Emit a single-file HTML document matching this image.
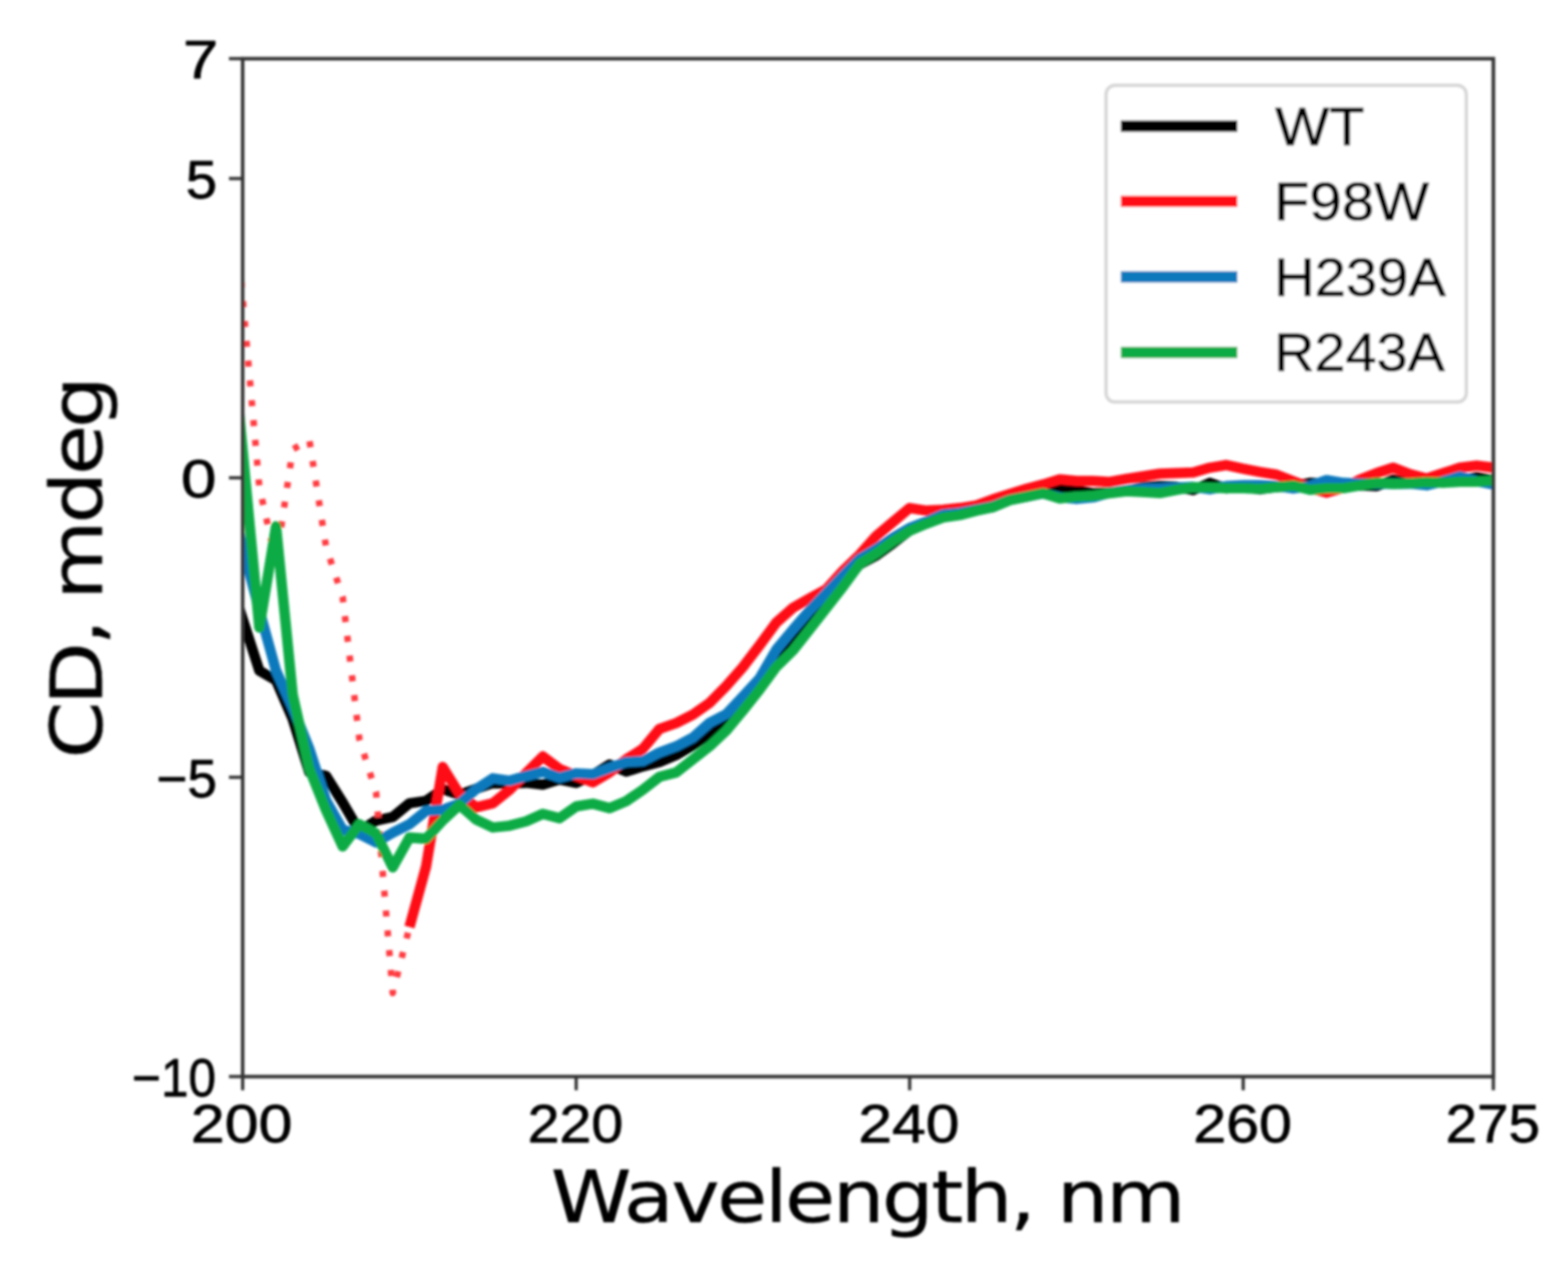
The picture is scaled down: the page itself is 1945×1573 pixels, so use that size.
<!DOCTYPE html>
<html lang="en">
<head>
<meta charset="utf-8">
<title>CD spectra</title>
<style>
html,body{margin:0;padding:0;background:#fff;}
body{width:1945px;height:1573px;overflow:hidden;}
svg{display:block;}
text{fill:#000;}
.lib{font-family:"Liberation Sans", Arial, sans-serif;stroke:#000;stroke-width:0.9px;stroke-linejoin:round;}
.dv{font-family:"DejaVu Sans", "Liberation Sans", sans-serif;stroke:#000;stroke-width:0.5px;stroke-linejoin:round;}
.curve{fill:none;stroke-width:12.8;stroke-linejoin:round;stroke-linecap:butt;}
</style>
</head>
<body>
<svg width="1945" height="1573" viewBox="0 0 1945 1573">
<defs>
<clipPath id="ax"><rect x="301.0" y="72.8" width="1551.4" height="1262.8"/></clipPath>
<filter id="soft" x="-2%" y="-2%" width="104%" height="104%"><feGaussianBlur stdDeviation="1.5"/></filter>
</defs>
<rect width="1945" height="1573" fill="#fff"/>
<g filter="url(#soft)">
<g clip-path="url(#ax)">
<path class="curve" stroke="#000000" d="M280.3,704.0 L301.0,768.0 L321.7,832.0 L342.4,844.0 L363.1,892.0 L383.7,958.0 L404.4,962.5 L425.1,995.5 L445.8,1031.0 L466.5,1018.0 L487.2,1013.5 L507.9,996.5 L528.5,993.5 L549.2,979.0 L569.9,986.0 L590.6,978.5 L611.3,971.5 L632.0,972.0 L652.7,971.0 L673.3,973.4 L694.0,967.0 L714.7,971.2 L735.4,961.5 L756.1,948.5 L776.8,957.2 L797.4,950.7 L818.1,945.3 L838.8,936.6 L859.5,924.7 L880.2,910.7 L900.9,893.4 L921.6,870.0 L942.2,846.0 L962.9,818.0 L983.6,795.0 L1004.3,770.0 L1025.0,746.0 L1045.7,722.0 L1066.4,700.0 L1087.0,689.0 L1107.7,674.0 L1128.4,658.0 L1149.1,649.0 L1169.8,640.0 L1190.5,637.0 L1211.2,633.0 L1231.8,629.0 L1252.5,620.0 L1273.2,616.0 L1293.9,611.0 L1314.6,606.0 L1335.3,608.0 L1356.0,612.0 L1376.6,611.0 L1397.3,609.0 L1418.0,604.0 L1438.7,603.0 L1459.4,604.0 L1480.1,608.0 L1500.7,599.0 L1521.4,606.0 L1542.1,604.0 L1562.8,607.0 L1583.5,604.0 L1604.2,603.0 L1624.9,599.0 L1645.5,600.0 L1666.2,603.0 L1686.9,602.0 L1707.6,603.0 L1728.3,595.0 L1749.0,599.0 L1769.7,598.0 L1790.3,598.0 L1811.0,596.0 L1831.7,592.0 L1852.4,596.0 L1873.1,600.0"/>
<path class="curve" stroke="#ff0d12" d="M507.9,1150.0 L528.5,1075.0 L549.2,951.5 L569.9,985.0 L590.6,1001.5 L611.3,996.5 L632.0,980.0 L652.7,959.0 L673.3,938.5 L694.0,953.8 L714.7,962.5 L735.4,970.5 L756.1,958.2 L776.8,942.0 L797.4,929.0 L818.1,904.2 L838.8,897.0 L859.5,886.5 L880.2,872.0 L900.9,851.0 L921.6,827.5 L942.2,800.5 L962.9,772.4 L983.6,754.0 L1004.3,742.3 L1025.0,731.0 L1045.7,708.0 L1066.4,688.0 L1087.0,664.8 L1107.7,647.5 L1128.4,630.2 L1149.1,633.5 L1169.8,632.4 L1190.5,630.2 L1211.2,627.0 L1231.8,619.4 L1252.5,612.9 L1273.2,606.4 L1293.9,601.0 L1314.6,594.6 L1335.3,596.7 L1356.0,596.7 L1376.6,597.8 L1397.3,594.0 L1418.0,590.9 L1438.7,587.6 L1459.4,586.9 L1480.1,586.2 L1500.7,580.2 L1521.4,576.9 L1542.1,581.5 L1562.8,585.5 L1583.5,588.9 L1604.2,596.9 L1624.9,605.0 L1645.5,611.0 L1666.2,605.0 L1686.9,595.0 L1707.6,586.9 L1728.3,580.2 L1749.0,588.2 L1769.7,593.6 L1790.3,586.9 L1811.0,580.2 L1831.7,577.5 L1852.4,580.2 L1873.1,582.9"/>
<path fill="none" stroke="#ff3a3f" stroke-width="8" stroke-dasharray="7.5 17.16" stroke-dashoffset="8.0" stroke-linejoin="round" d="M280.3,136.0 L301.0,370.0 L321.7,604.0 L342.4,697.0 L363.1,557.5 L383.7,545.6 L404.4,678.0 L425.1,741.0 L445.8,917.0 L466.5,983.0 L487.2,1232.0 L507.9,1150.0"/>
<path class="curve" stroke="#0b79bd" d="M280.3,599.8 L301.0,678.4 L321.7,757.0 L342.4,832.0 L363.1,878.0 L383.7,929.0 L404.4,993.0 L425.1,1029.5 L445.8,1034.5 L466.5,1045.0 L487.2,1033.0 L507.9,1022.5 L528.5,1006.0 L549.2,1004.5 L569.9,997.0 L590.6,979.0 L611.3,965.5 L632.0,968.5 L652.7,962.7 L673.3,957.5 L694.0,964.7 L714.7,959.3 L735.4,960.4 L756.1,952.8 L776.8,945.3 L797.4,944.2 L818.1,933.4 L838.8,925.8 L859.5,915.0 L880.2,896.6 L900.9,885.8 L921.6,864.0 L942.2,841.5 L962.9,805.9 L983.6,781.0 L1004.3,757.3 L1025.0,735.7 L1045.7,714.0 L1066.4,693.0 L1087.0,681.0 L1107.7,667.0 L1128.4,655.0 L1149.1,647.0 L1169.8,638.0 L1190.5,636.0 L1211.2,632.0 L1231.8,628.0 L1252.5,620.0 L1273.2,616.0 L1293.9,612.0 L1314.6,617.0 L1335.3,619.0 L1356.0,617.0 L1376.6,611.0 L1397.3,608.0 L1418.0,606.0 L1438.7,606.0 L1459.4,605.0 L1480.1,604.0 L1500.7,607.0 L1521.4,603.0 L1542.1,602.0 L1562.8,602.0 L1583.5,603.0 L1604.2,606.0 L1624.9,603.0 L1645.5,595.6 L1666.2,599.0 L1686.9,600.0 L1707.6,600.0 L1728.3,600.0 L1749.0,600.0 L1769.7,602.0 L1790.3,597.0 L1811.0,591.0 L1831.7,597.0 L1852.4,601.0 L1873.1,605.0"/>
<path class="curve" stroke="#08ab44" d="M280.3,340.3 L301.0,559.4 L321.7,778.5 L342.4,653.0 L363.1,862.0 L383.7,953.7 L404.4,1005.0 L425.1,1050.0 L445.8,1022.5 L466.5,1034.0 L487.2,1076.0 L507.9,1039.0 L528.5,1040.5 L549.2,1017.8 L569.9,998.5 L590.6,1016.7 L611.3,1026.5 L632.0,1024.3 L652.7,1018.9 L673.3,1009.6 L694.0,1015.0 L714.7,1000.4 L735.4,997.0 L756.1,1002.5 L776.8,993.9 L797.4,979.8 L818.1,963.6 L838.8,958.2 L859.5,942.0 L880.2,925.8 L900.9,906.4 L921.6,881.5 L942.2,855.5 L962.9,827.3 L983.6,807.0 L1004.3,780.7 L1025.0,754.3 L1045.7,727.8 L1066.4,699.4 L1087.0,686.4 L1107.7,671.3 L1128.4,658.3 L1149.1,649.7 L1169.8,642.0 L1190.5,639.0 L1211.2,633.5 L1231.8,629.1 L1252.5,620.5 L1273.2,616.2 L1293.9,611.8 L1314.6,618.3 L1335.3,616.2 L1356.0,615.1 L1376.6,611.8 L1397.3,609.3 L1418.0,610.3 L1438.7,611.6 L1459.4,607.6 L1480.1,604.3 L1500.7,604.9 L1521.4,605.6 L1542.1,605.6 L1562.8,606.3 L1583.5,604.3 L1604.2,602.3 L1624.9,607.6 L1645.5,605.6 L1666.2,605.6 L1686.9,602.3 L1707.6,598.9 L1728.3,600.3 L1749.0,599.6 L1769.7,598.2 L1790.3,598.9 L1811.0,597.6 L1831.7,597.6 L1852.4,596.2 L1873.1,594.8"/>
</g>
<path d="M301.0,1335.6 v17.0 M714.7,1335.6 v17.0 M1128.4,1335.6 v17.0 M1542.1,1335.6 v17.0 M1852.4,1335.6 v17.0 M301.0,72.8 h-17.0 M301.0,221.4 h-17.0 M301.0,592.8 h-17.0 M301.0,964.2 h-17.0 M301.0,1335.6 h-17.0" stroke="#333333" stroke-width="4.0" fill="none"/>
<rect x="301.0" y="72.8" width="1551.4" height="1262.8" fill="none" stroke="#333333" stroke-width="4.4"/>
<rect x="1372.0" y="105.9" width="446.8" height="392.8" rx="11" fill="#fff" stroke="#d6d6d6" stroke-width="4.2"/>
<line x1="1390.3" x2="1535" y1="156.6" y2="156.6" stroke="#000000" stroke-width="14.0"/>
<text class="lib" font-size="67.44" transform="translate(1581.74,179.80) scale(1.0559,1)">WT</text>
<line x1="1390.3" x2="1535" y1="249.8" y2="249.8" stroke="#ff0d12" stroke-width="14.0"/>
<text class="lib" font-size="67.44" transform="translate(1580.33,273.20) scale(1.0692,1)">F98W</text>
<line x1="1390.3" x2="1535" y1="343.5" y2="343.5" stroke="#0b79bd" stroke-width="14.0"/>
<text class="lib" font-size="67.44" transform="translate(1580.53,366.80) scale(1.0327,1)">H239A</text>
<line x1="1390.3" x2="1535" y1="437.2" y2="437.2" stroke="#08ab44" stroke-width="14.0"/>
<text class="lib" font-size="67.44" transform="translate(1580.57,460.20) scale(1.0257,1)">R243A</text>
<text class="lib" font-size="67.44" transform="translate(236.83,1416.70) scale(1.1186,1)">200</text>
<text class="lib" font-size="67.44" transform="translate(654.45,1416.70) scale(1.0539,1)">220</text>
<text class="lib" font-size="67.44" transform="translate(1064.64,1416.70) scale(1.1158,1)">240</text>
<text class="lib" font-size="67.44" transform="translate(1480.23,1416.70) scale(1.0877,1)">260</text>
<text class="lib" font-size="67.44" transform="translate(1793.30,1416.70) scale(1.0393,1)">275</text>
<text class="lib" font-size="67.44" transform="translate(226.97,97.40) scale(1.1667,1)">7</text>
<text class="lib" font-size="67.44" transform="translate(230.41,245.96) scale(1.0332,1)">5</text>
<text class="lib" font-size="67.44" transform="translate(224.54,617.38) scale(1.1706,1)">0</text>
<text class="lib" font-size="67.44" transform="translate(194.01,988.79) scale(0.9758,1)">−5</text>
<text class="lib" font-size="67.44" transform="translate(163.83,1360.20) scale(0.9100,1)">−10</text>
<text class="dv" font-size="89.57" letter-spacing="-2.731" transform="translate(683.36,1516.40) scale(1.1300,1)">Wavelength, nm</text>
<text class="dv" font-size="89.57" letter-spacing="-3.524" transform="translate(126.40,941.07) rotate(-90) scale(1.1300,1)">CD, mdeg</text>
</g>
</svg>
</body>
</html>
